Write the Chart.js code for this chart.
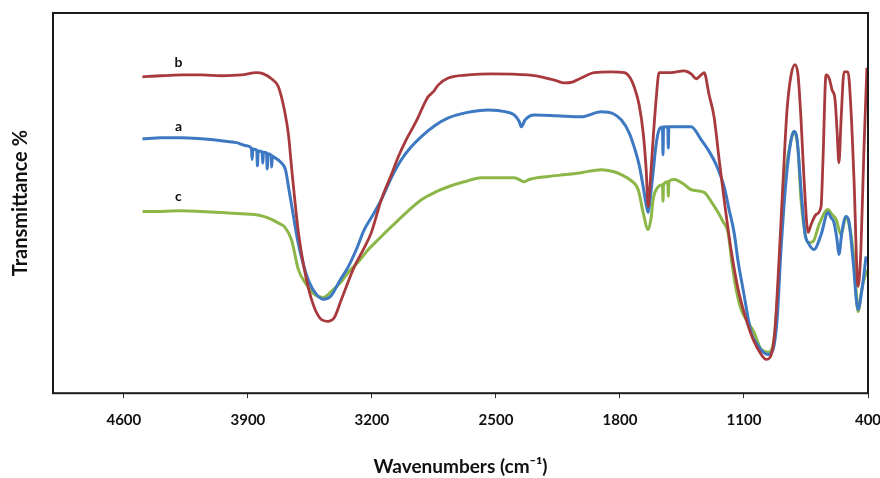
<!DOCTYPE html>
<html>
<head>
<meta charset="utf-8">
<title>FTIR spectra</title>
<script src="https://cdn.jsdelivr.net/npm/chart.js@4.4.1/dist/chart.umd.min.js"></script>
<style>
  html, body { margin: 0; padding: 0; background: #ffffff; }
  #wrap { width: 880px; height: 478px; position: relative; }
</style>
</head>
<body>
<div id="wrap"><canvas id="ftir"></canvas></div>
<script>
// Wavenumber ticks (cm-1), axis runs high to low
const tickValues = [4600, 3900, 3200, 2500, 1800, 1100, 400];

// Spectrum b
const bWn = [4495, 4388, 4275, 4162, 4049, 3936, 3852, 3812, 3767, 3728, 3694, 3671, 3654, 3615, 3581, 3541, 3496, 3451, 3412, 3372, 3299, 3248, 3203, 3147, 3090, 3051, 3006, 2966, 2938, 2910, 2882, 2853, 2825, 2769, 2656, 2526, 2318, 2216, 2160, 2115, 2064, 2019, 1945, 1850, 1776, 1742, 1720, 1692, 1669, 1652, 1641, 1630, 1613, 1596, 1579, 1511, 1438, 1398, 1370, 1342, 1325, 1297, 1269, 1240, 1212, 1173, 1133, 1088, 1049, 1003, 975, 947, 925, 902, 879, 857, 834, 812, 795, 778, 761, 738, 721, 693, 665, 654, 637, 620, 603, 586, 575, 564, 552, 535, 513, 496, 479, 456, 440, 423, 406];
const bT  = [83.2, 83.5, 83.7, 83.7, 83.5, 83.7, 84.3, 84.0, 82.7, 80.6, 74.5, 68.0, 59.6, 42.3, 32.5, 24.7, 19.9, 18.9, 19.9, 24.7, 33.3, 37.8, 42.3, 50.9, 57.5, 62.2, 66.7, 70.1, 72.7, 75.6, 78.0, 79.3, 81.1, 82.9, 83.7, 84.0, 83.7, 82.9, 82.2, 81.6, 81.9, 82.9, 84.3, 84.5, 84.3, 82.9, 80.6, 75.9, 68.5, 58.8, 49.1, 54.9, 66.7, 77.2, 84.3, 84.3, 84.8, 84.0, 82.7, 83.7, 84.3, 78.5, 72.7, 61.4, 50.9, 37.8, 27.3, 19.4, 14.2, 10.2, 8.9, 10.0, 16.8, 35.2, 56.2, 74.5, 83.7, 86.4, 83.7, 71.9, 56.2, 42.3, 44.4, 47.0, 49.1, 61.4, 83.7, 82.9, 79.8, 77.2, 69.3, 60.6, 71.9, 84.5, 84.5, 74.5, 56.2, 28.1, 37.8, 64.0, 85.6];

// Spectrum a
const aWn = [4495, 4388, 4275, 4162, 4049, 3964, 3908, 3880, 3876, 3872, 3850, 3846, 3842, 3820, 3816, 3812, 3795, 3791, 3787, 3770, 3766, 3762, 3756, 3711, 3688, 3671, 3649, 3620, 3587, 3553, 3513, 3474, 3429, 3384, 3333, 3288, 3243, 3203, 3147, 3090, 3034, 2978, 2921, 2848, 2769, 2667, 2543, 2442, 2397, 2368, 2357, 2335, 2284, 2160, 2019, 1906, 1838, 1793, 1748, 1720, 1692, 1669, 1652, 1641, 1630, 1613, 1596, 1579, 1560, 1557, 1554, 1530, 1527, 1524, 1455, 1398, 1342, 1302, 1257, 1212, 1184, 1156, 1133, 1105, 1060, 1026, 992, 964, 936, 913, 891, 862, 834, 817, 800, 778, 755, 738, 705, 665, 626, 609, 592, 575, 564, 547, 524, 507, 485, 456, 434, 411];
const aT  = [66.9, 67.2, 67.2, 66.9, 66.4, 65.9, 65.1, 64.4, 61.5, 64.2, 63.9, 59.8, 63.7, 63.5, 60.5, 63.4, 63.3, 59.0, 63.0, 62.6, 59.5, 62.4, 62.2, 60.6, 58.8, 54.3, 48.3, 40.4, 33.9, 29.1, 26.0, 24.7, 25.7, 29.4, 33.3, 37.8, 43.0, 46.2, 50.9, 56.7, 61.4, 64.8, 67.5, 70.3, 72.4, 73.8, 74.5, 74.0, 73.2, 71.4, 70.1, 71.9, 73.2, 73.0, 72.7, 74.0, 73.5, 71.9, 68.5, 64.8, 60.1, 54.3, 49.6, 47.5, 50.9, 58.0, 65.4, 69.3, 70.0, 62.7, 70.0, 70.1, 64.5, 70.1, 70.1, 70.1, 66.7, 64.0, 60.1, 54.3, 48.3, 42.3, 34.6, 27.3, 16.0, 12.9, 10.8, 10.2, 11.5, 19.4, 37.8, 56.2, 66.7, 68.8, 66.7, 53.5, 41.7, 39.6, 37.8, 41.7, 47.5, 46.2, 44.9, 40.4, 36.5, 42.5, 46.5, 45.1, 35.2, 22.0, 27.3, 36.0];

// Spectrum c
const cWn = [4495, 4388, 4275, 4162, 4049, 3936, 3863, 3812, 3767, 3722, 3694, 3654, 3615, 3570, 3525, 3474, 3429, 3372, 3333, 3276, 3220, 3158, 3090, 3006, 2921, 2837, 2769, 2679, 2583, 2397, 2357, 2340, 2312, 2205, 2103, 2019, 1906, 1838, 1793, 1737, 1697, 1669, 1641, 1624, 1613, 1584, 1560, 1557, 1554, 1530, 1527, 1524, 1494, 1443, 1398, 1325, 1285, 1246, 1218, 1190, 1167, 1144, 1116, 1077, 1043, 1003, 964, 930, 908, 885, 862, 834, 817, 795, 778, 761, 738, 710, 676, 626, 603, 580, 552, 524, 507, 485, 468, 456, 440, 423, 400];
const cT  = [47.8, 47.8, 48.0, 47.8, 47.5, 47.2, 47.0, 46.5, 45.7, 44.6, 43.8, 40.4, 32.5, 28.6, 26.0, 25.2, 26.8, 29.4, 31.8, 34.6, 37.8, 40.7, 43.8, 47.5, 50.9, 53.0, 54.3, 55.6, 56.7, 56.7, 55.9, 55.6, 56.2, 57.0, 57.5, 58.0, 58.8, 58.3, 57.5, 55.9, 53.5, 47.5, 43.0, 46.2, 50.9, 54.3, 54.8, 50.5, 54.9, 55.6, 51.8, 55.7, 56.2, 55.1, 53.5, 52.8, 50.4, 47.5, 45.1, 42.3, 33.9, 27.3, 22.0, 18.6, 16.0, 11.5, 10.8, 14.2, 27.3, 45.7, 58.8, 66.7, 68.8, 64.0, 50.9, 43.8, 39.6, 39.9, 44.4, 48.3, 47.0, 45.7, 41.7, 46.5, 44.4, 37.8, 27.3, 21.5, 26.0, 29.9, 32.5];

// Curve tags placed beside each trace
const tagNames = ['b', 'a', 'c'];
const tagWn = [4292, 4292, 4292];
const tagT = [87.1, 70.1, 51.7];

const toPoints = (xs, ys) => xs.map((x, i) => ({ x: x, y: ys[i] }));

const FONT = 'Lato, "Open Sans", "DejaVu Sans", sans-serif';

const frameAndTags = {
  id: 'frameAndTags',
  afterDatasetsDraw(chart) {
    const { ctx, chartArea: a, scales } = chart;
    ctx.save();
    ctx.strokeStyle = '#1a1a1a';
    ctx.lineWidth = 2;
    ctx.strokeRect(a.left, a.top, a.right - a.left, a.bottom - a.top);
    ctx.fillStyle = '#111';
    ctx.font = 'bold 14px ' + FONT;
    ctx.textAlign = 'center';
    ctx.textBaseline = 'middle';
    tagNames.forEach((t, i) => {
      ctx.fillText(t, scales.x.getPixelForValue(tagWn[i]), scales.y.getPixelForValue(tagT[i]));
    });
    ctx.restore();
  }
};

new Chart(document.getElementById('ftir'), {
  type: 'line',
  data: {
    datasets: [
      { label: 'b', data: toPoints(bWn, bT), borderColor: '#A8393C', borderWidth: 2.8 },
      { label: 'a', data: toPoints(aWn, aT), borderColor: '#3D78C2', borderWidth: 3 },
      { label: 'c', data: toPoints(cWn, cT), borderColor: '#8CB748', borderWidth: 3 }
    ]
  },
  options: {
    responsive: true,
    maintainAspectRatio: false,
    animation: false,
    parsing: false,
    elements: { point: { radius: 0 }, line: { cubicInterpolationMode: 'monotone', fill: false } },
    layout: { padding: { top: 13, right: 12, bottom: 0, left: 1 } },
    plugins: { legend: { display: false }, tooltip: { enabled: false } },
    scales: {
      x: {
        type: 'linear',
        reverse: true,
        min: 400,
        max: 5000,
        afterBuildTicks(axis) { axis.ticks = tickValues.map(v => ({ value: v })); },
        // let the last tick label run into the right margin
        afterFit(axis) { axis.paddingRight = 0; axis.paddingLeft = 0; },
        ticks: {
          color: '#111', padding: 13, maxRotation: 0,
          font: { family: FONT, size: 15, weight: 'bold' },
          callback: (v) => String(v)
        },
        grid: { display: true, drawOnChartArea: false, drawTicks: true, tickLength: 5, color: '#333', lineWidth: 1 },
        border: { display: false },
        title: {
          display: true,
          text: 'Wavenumbers (cm⁻¹)',
          color: '#111',
          font: { family: FONT, size: 19, weight: 'bold' },
          padding: { top: 13, bottom: 0 }
        }
      },
      y: {
        type: 'linear',
        min: 0,
        max: 100,
        ticks: { display: false },
        grid: { display: false },
        border: { display: false },
        title: {
          display: true,
          text: 'Transmittance %',
          color: '#111',
          font: { family: FONT, size: 20, weight: 'bold' },
          padding: { top: 8, bottom: 12 }
        }
      }
    }
  },
  plugins: [frameAndTags]
});
</script>
</body>
</html>
